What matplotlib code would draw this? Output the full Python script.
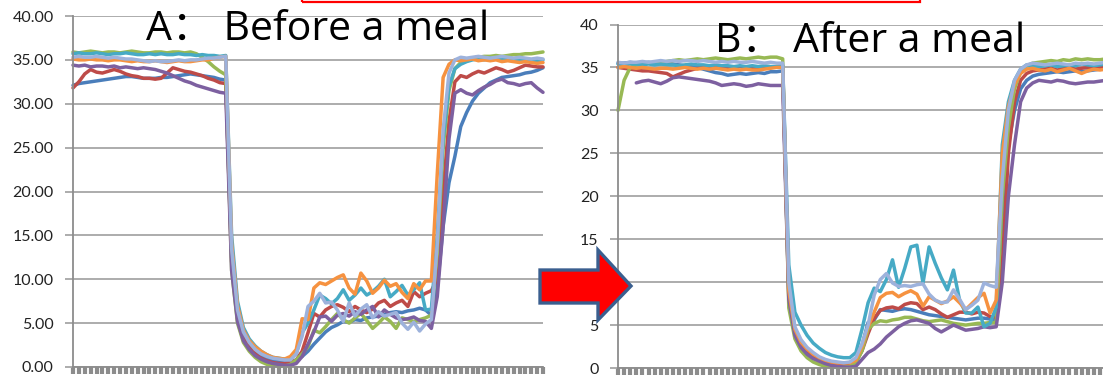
import numpy as np
import matplotlib
matplotlib.use("Agg")
import matplotlib.pyplot as plt
from matplotlib.patches import Polygon, Rectangle

# ---------------- data ----------------
y_ticks = [0, 5, 10, 15, 20, 25, 30, 35, 40]
n_points = 81
series_colors = ["#4A7EBB", "#BE4B48", "#98B954", "#7D60A0", "#46AAC5", "#F69240", "#9DB2DC"]

title_before = "A： Before a meal"
title_after = "B： After a meal"

before_s1 = [32.1, 32.3, 32.4, 32.5, 32.6, 32.7, 32.8, 32.9, 33.0, 33.1, 33.1, 33.0, 32.9, 32.9, 32.9, 33.0, 33.0, 33.1, 33.2, 33.3, 33.4, 33.3, 33.2, 33.1, 33.0, 32.8, 32.7,
             12.5, 6.0, 3.5, 2.4, 1.7, 1.2, 0.9, 0.7, 0.6, 0.6, 0.6,
             0.8, 1.2, 1.8, 2.6, 3.3, 4.0, 4.5, 4.8, 5.2, 5.1, 5.4, 5.3, 5.6, 5.7, 5.8, 6.0, 6.2, 6.3, 6.2, 6.4, 6.5, 6.7, 6.5, 5.9,
             9.0, 16.0, 21.0, 24.0, 27.4, 29.0, 30.3, 31.2, 31.8, 32.4, 32.7, 33.0, 33.1, 33.2, 33.3, 33.5, 33.6, 33.8, 34.1]
before_s2 = [31.8, 32.5, 33.4, 33.9, 33.6, 33.5, 33.7, 33.9, 33.7, 33.4, 33.2, 33.1, 32.9, 32.9, 32.8, 32.9, 33.5, 34.1, 33.9, 33.7, 33.6, 33.4, 33.2, 32.9, 32.7, 32.4, 32.3,
             12.0, 5.5, 3.2, 2.2, 1.5, 1.0, 0.7, 0.5, 0.4, 0.4, 0.5,
             0.8, 1.8, 3.9, 6.1, 5.7, 6.5, 6.9, 7.1, 6.8, 6.3, 6.9, 6.5, 6.2, 6.6, 7.3, 7.6, 6.9, 7.3, 7.6, 6.9, 8.6, 8.0, 8.4, 8.7,
             10.0, 20.0, 28.0, 32.5, 33.2, 33.0, 33.4, 33.7, 33.5, 33.8, 34.1, 33.9, 33.6, 33.8, 34.1, 34.4, 34.3, 34.2, 34.2]
before_s3 = [35.9, 35.8, 35.9, 36.0, 35.9, 35.8, 35.9, 35.9, 35.8, 35.9, 36.0, 35.9, 35.8, 35.8, 35.9, 35.9, 35.8, 35.9, 35.9, 35.8, 35.9, 35.7, 35.3, 34.8, 34.2, 33.7, 33.3,
             11.0, 5.0, 2.8, 1.8, 1.1, 0.6, 0.3, 0.2, 0.1, 0.1, 0.3,
             0.8, 1.5, 2.3, 4.2, 3.9, 4.6, 5.4, 6.1, 5.4, 5.0, 5.6, 6.1, 5.3, 4.4, 5.0, 5.7, 5.2, 4.4, 5.6, 5.4, 5.2, 5.4, 5.6, 5.9,
             13.0, 25.0, 31.5, 34.0, 34.7, 35.0, 35.2, 35.3, 35.4, 35.4, 35.5, 35.4, 35.5, 35.6, 35.6, 35.7, 35.7, 35.8, 35.9]
before_s4 = [34.4, 34.3, 34.4, 34.2, 34.3, 34.3, 34.2, 34.3, 34.1, 34.2, 34.1, 34.0, 34.1, 34.0, 33.9, 33.7, 33.5, 33.2, 32.9, 32.6, 32.4, 32.1, 31.9, 31.7, 31.5, 31.3, 31.2,
             11.0, 5.2, 3.0, 2.0, 1.3, 0.9, 0.6, 0.4, 0.3, 0.2, 0.2,
             0.4, 1.2, 2.6, 4.0, 5.7, 5.8, 5.2, 5.9, 6.1, 5.8, 6.3, 6.0, 6.5, 6.9, 5.7, 6.5, 6.0, 5.6, 5.4, 5.5, 5.7, 5.3, 5.2, 4.4,
             8.0, 16.0, 26.0, 31.2, 31.6, 31.2, 31.0, 31.5, 31.9, 32.2, 32.6, 32.8, 32.4, 32.3, 32.1, 32.3, 32.4, 31.8, 31.3]
before_s5 = [35.7, 35.8, 35.7, 35.7, 35.8, 35.7, 35.6, 35.7, 35.7, 35.8, 35.7, 35.6, 35.6, 35.7, 35.6, 35.7, 35.6, 35.6, 35.7, 35.6, 35.6, 35.5, 35.6, 35.5, 35.5, 35.4, 35.5,
             15.0, 7.5, 4.5, 3.2, 2.4, 1.8, 1.4, 1.1, 1.0, 0.9, 1.0,
             1.5, 3.9, 5.0, 6.5, 8.2, 7.8, 7.2, 7.8, 8.8, 7.6, 8.2, 9.0, 8.2, 8.6, 9.2, 10.0, 8.0, 8.6, 9.3, 8.2, 8.8, 9.6, 6.5, 6.6,
             15.0, 26.0, 32.0, 34.0, 34.5, 34.8, 35.0, 35.1, 35.0, 35.2, 35.1, 35.0, 35.2, 35.1, 35.0, 35.1, 35.0, 34.9, 35.0]
before_s6 = [35.1, 35.0, 35.0, 35.1, 35.0, 35.0, 34.9, 35.0, 35.0, 34.9, 34.8, 34.9, 34.8, 34.8, 34.9, 34.8, 34.7, 34.8, 34.9, 34.8, 34.8, 34.9, 35.0, 35.0, 35.2, 35.3, 35.4,
             14.0, 7.0, 4.2, 3.0, 2.3, 1.8, 1.4, 1.1, 1.0, 0.9, 1.2,
             2.0, 5.5, 5.4, 9.0, 9.6, 9.4, 9.8, 10.2, 10.5, 9.0, 8.3, 10.7, 9.8, 8.4, 9.0, 9.9, 9.2, 9.5, 8.5, 7.8, 9.5, 8.8, 9.8, 9.8,
             22.0, 33.0, 34.5, 35.0, 34.9, 35.0, 35.1, 34.9, 35.0, 34.9, 35.0, 34.8, 34.9, 34.8, 34.7, 34.8, 34.7, 34.6, 34.7]
before_s7 = [35.3, 35.4, 35.3, 35.3, 35.4, 35.3, 35.2, 35.3, 35.2, 35.1, 35.1, 35.0, 34.9, 34.8, 34.9, 34.8, 34.8, 34.9, 35.0, 34.9, 35.0, 35.0, 35.1, 35.2, 35.2, 35.3, 35.4,
             13.5, 6.5, 4.0, 2.8, 2.0, 1.5, 1.2, 1.0, 0.9, 0.8, 0.8,
             1.5, 3.5, 6.9, 7.5, 8.4, 7.3, 7.4, 6.5, 5.2, 7.3, 5.8, 6.6, 7.1, 5.6, 6.3, 5.8, 6.0, 6.2, 5.0, 4.3, 5.1, 4.1, 4.9, 5.4,
             14.0, 27.0, 33.5, 35.0, 35.3, 35.2, 35.3, 35.4, 35.3, 35.2, 35.3, 35.4, 35.3, 35.2, 35.3, 35.2, 35.1, 35.2, 35.1]

after_s1 = [35.5, 35.5, 35.6, 35.5, 35.5, 35.6, 35.5, 35.4, 35.5, 35.4, 35.3, 35.2, 35.2, 35.0, 34.8, 34.6, 34.4, 34.3, 34.1, 34.2, 34.3, 34.2, 34.3, 34.4, 34.3, 34.5, 34.5, 34.6,
            8.5, 4.2, 2.8, 2.0, 1.4, 1.0, 0.7, 0.5, 0.4, 0.4,
            0.5, 0.9, 2.6, 5.3, 5.6, 6.8, 6.7, 6.6, 6.8, 6.9, 6.8, 6.6, 6.4, 6.2, 6.1, 6.0, 5.9, 5.8, 5.7, 5.6, 5.7, 5.8, 5.8, 5.7, 5.6,
            18.0, 26.0, 30.0, 32.5, 33.5, 34.0, 34.2, 34.3, 34.4, 34.5, 34.4, 34.5, 34.6, 34.5, 34.6, 34.7, 34.8, 34.8]
after_s2 = [35.0, 34.9, 34.8, 34.7, 34.6, 34.6, 34.5, 34.4, 34.3, 33.9, 34.2, 34.5, 34.7, 34.9, 35.0, 34.9, 35.0, 35.0, 34.9, 35.0, 35.1, 35.0, 34.9, 35.0, 35.1, 35.0, 35.1, 35.2,
            8.0, 4.0, 2.6, 1.8, 1.2, 0.8, 0.5, 0.4, 0.3, 0.3,
            0.4, 0.7, 2.0, 4.0, 5.8, 6.7, 7.0, 7.1, 6.9, 7.4, 7.6, 7.5, 6.8, 7.1, 6.8, 6.3, 5.9, 6.2, 6.5, 6.5, 6.3, 6.5, 6.4, 6.0, 5.9,
            12.0, 25.0, 31.0, 33.5, 34.3, 34.6, 34.7, 34.8, 34.9, 34.7, 34.9, 35.0, 34.8, 34.9, 35.0, 34.9, 35.0, 35.1]
after_s3 = [30.0, 33.5, 35.0, 35.3, 35.4, 35.5, 35.6, 35.5, 35.7, 35.8, 35.9, 35.8, 35.9, 36.0, 35.9, 36.0, 36.1, 36.0, 35.9, 36.0, 36.1, 36.0, 36.1, 36.2, 36.1, 36.2, 36.2, 36.0,
            7.0, 3.4, 2.0, 1.2, 0.7, 0.4, 0.2, 0.1, 0.1, 0.1,
            0.2, 0.6, 2.0, 4.5, 5.2, 5.5, 5.4, 5.6, 5.7, 5.9, 5.9, 5.7, 5.5, 5.4, 5.5, 5.6, 5.4, 5.2, 5.1, 5.0, 5.1, 5.2, 5.2, 5.3, 5.3,
            20.0, 28.0, 32.5, 34.5, 35.2, 35.5, 35.6, 35.7, 35.8, 35.7, 35.9, 35.8, 36.0, 35.9, 36.0, 35.9, 35.9, 36.0]
after_s4 = [np.nan, np.nan, np.nan, 33.2, 33.4, 33.5, 33.3, 33.1, 33.4, 33.8, 33.9, 33.8, 33.7, 33.6, 33.5, 33.4, 33.2, 32.9, 33.0, 33.1, 33.0, 32.8, 32.9, 33.1, 33.0, 32.9, 32.9, 32.9,
            8.0, 3.8, 2.4, 1.6, 1.1, 0.8, 0.5, 0.3, 0.2, 0.1,
            0.1, 0.2, 1.0, 1.8, 2.2, 2.8, 3.6, 4.2, 4.8, 5.2, 5.5, 5.6, 5.4, 5.2, 4.6, 4.2, 4.6, 5.0, 4.7, 4.4, 4.5, 4.6, 4.8, 4.7, 4.8,
            10.0, 20.0, 26.0, 31.0, 32.6, 33.2, 33.5, 33.4, 33.3, 33.5, 33.4, 33.2, 33.1, 33.2, 33.3, 33.3, 33.4, 33.5]
after_s5 = [35.4, 35.3, 35.4, 35.4, 35.3, 35.4, 35.3, 35.4, 35.3, 35.3, 35.2, 35.3, 35.4, 35.3, 35.3, 35.2, 35.3, 35.2, 35.2, 35.1, 35.2, 35.1, 35.2, 35.1, 35.2, 35.1, 35.1, 35.2,
            12.0, 6.5, 5.0, 3.8, 2.9, 2.3, 1.8, 1.5, 1.3, 1.2,
            1.2, 1.8, 4.5, 7.6, 9.3, 8.9, 10.3, 12.6, 9.4, 11.6, 14.1, 14.3, 9.9, 14.1, 12.2, 10.5, 9.1, 11.4, 7.9, 6.4, 6.4, 7.1, 4.8, 5.2, 7.1,
            26.0, 31.0, 33.5, 34.8, 35.3, 35.2, 35.1, 35.2, 35.3, 35.1, 35.2, 35.3, 35.2, 35.4, 35.3, 35.2, 35.3, 35.4]
after_s6 = [35.0, 35.1, 35.0, 34.9, 35.0, 34.9, 34.8, 34.9, 34.9, 34.8, 34.9, 35.0, 34.9, 34.8, 34.9, 34.8, 34.9, 34.8, 34.7, 34.8, 34.7, 34.8, 34.7, 34.7, 34.8, 34.9, 35.0, 35.0,
            9.0, 4.5, 3.0, 2.2, 1.6, 1.2, 0.9, 0.7, 0.6, 0.6,
            0.6, 0.9, 2.5, 4.8, 6.5, 8.2, 8.7, 8.8, 8.3, 8.7, 9.0, 8.6, 7.2, 8.3, 7.9, 7.5, 7.8, 8.3, 7.6, 6.8, 7.5, 8.2, 8.7, 6.4, 7.9,
            25.0, 30.5, 33.0, 34.3, 34.8, 34.9, 34.7, 34.6, 34.8, 34.5, 34.7, 34.9, 34.6, 34.3, 34.6, 34.8, 34.7, 34.8]
after_s7 = [35.6, 35.5, 35.6, 35.6, 35.7, 35.6, 35.7, 35.8, 35.7, 35.8, 35.7, 35.8, 35.8, 35.7, 35.8, 35.7, 35.6, 35.7, 35.6, 35.7, 35.6, 35.6, 35.7, 35.6, 35.5, 35.6, 35.5, 35.5,
            10.0, 4.8, 3.3, 2.4, 1.8, 1.3, 1.0, 0.8, 0.7, 0.6,
            0.7, 1.2, 2.8, 5.0, 8.5, 10.3, 11.0, 9.9, 9.5, 9.6, 9.5, 9.7, 9.8, 8.6, 7.9, 7.6, 7.7, 9.1, 8.0, 6.8, 7.3, 7.9, 9.9, 9.6, 9.4,
            22.0, 30.0, 33.5, 34.8, 35.3, 35.5, 35.4, 35.3, 35.4, 35.5, 35.4, 35.3, 35.5, 35.4, 35.5, 35.4, 35.5, 35.6]

before_series = [before_s1, before_s2, before_s3, before_s4, before_s5, before_s6, before_s7]
after_series = [after_s1, after_s2, after_s3, after_s4, after_s5, after_s6, after_s7]

# ---------------- layout helpers (pixel -> figure fraction) ----------------
W, H = 1103, 375
fig = plt.figure(figsize=(W / 100, H / 100), dpi=100)
plt.rcParams["font.family"] = ["Lato", "Noto Sans CJK SC", "DejaVu Sans"]
title_family = ["Open Sans", "Noto Sans CJK SC", "DejaVu Sans"]


def fx(px):
    return px / W


def fy(py):
    return 1 - py / H


ax_a = fig.add_axes([fx(73), fy(367), fx(543) - fx(73), fy(16) - fy(367)])
ax_b = fig.add_axes([fx(618), fy(368), fx(1106) - fx(618), fy(24.5) - fy(368)])

grid_color = "#A6A6A6"
axis_color = "#8C8C8C"


def style_axes(ax, fmt):
    ax.set_xlim(0, n_points - 1)
    ax.set_ylim(0, 40)
    ax.set_yticks(y_ticks)
    ax.set_yticklabels([fmt.format(v) for v in y_ticks])
    ax.set_xticks(np.arange(n_points))
    ax.set_xticklabels([])
    ax.grid(axis="y", color=grid_color, lw=1.3)
    ax.grid(axis="x", visible=False)
    ax.set_axisbelow(True)
    for side in ["top", "right"]:
        ax.spines[side].set_visible(False)
    for side in ["left", "bottom"]:
        ax.spines[side].set_color(axis_color)
        ax.spines[side].set_linewidth(1.3)
    ax.tick_params(axis="x", length=5, width=3, color=axis_color, direction="out")
    ax.tick_params(axis="y", length=6, width=1.3, color=grid_color, pad=8,
                   labelsize=11.5, labelcolor="#222222")


def draw_series(ax, series):
    x = np.arange(n_points)
    for vals, col in zip(series, series_colors):
        ax.plot(x, vals, color=col, lw=2.5, solid_joinstyle="round",
                solid_capstyle="round", clip_on=False)


style_axes(ax_a, "{:.2f}")
style_axes(ax_b, "{:d}")
draw_series(ax_a, before_series)
draw_series(ax_b, after_series)

# panel titles
fig.text(fx(146), fy(40), title_before, fontsize=29.5, ha="left", va="baseline",
         color="black", family=title_family)
fig.text(fx(715), fy(52), title_after, fontsize=29.5, ha="left", va="baseline",
         color="black", family=title_family)

# red frame along the top edge
frame = Rectangle((fx(302), fy(1.5)), fx(920) - fx(302), 0.2, transform=fig.transFigure,
                  fill=False, edgecolor="#FF0000", lw=1.6, clip_on=False)
fig.add_artist(frame)

# block arrow between the panels
arrow_px = [(540, 270), (598, 270), (598, 250), (631, 286), (598, 320), (598, 303), (540, 303)]
arrow = Polygon([(fx(x), fy(y)) for x, y in arrow_px], closed=True, transform=fig.transFigure,
                facecolor="#FF0000", edgecolor="#3A5F8F", lw=2.4, joinstyle="miter")
fig.add_artist(arrow)

fig.savefig("out.png", dpi=100)
